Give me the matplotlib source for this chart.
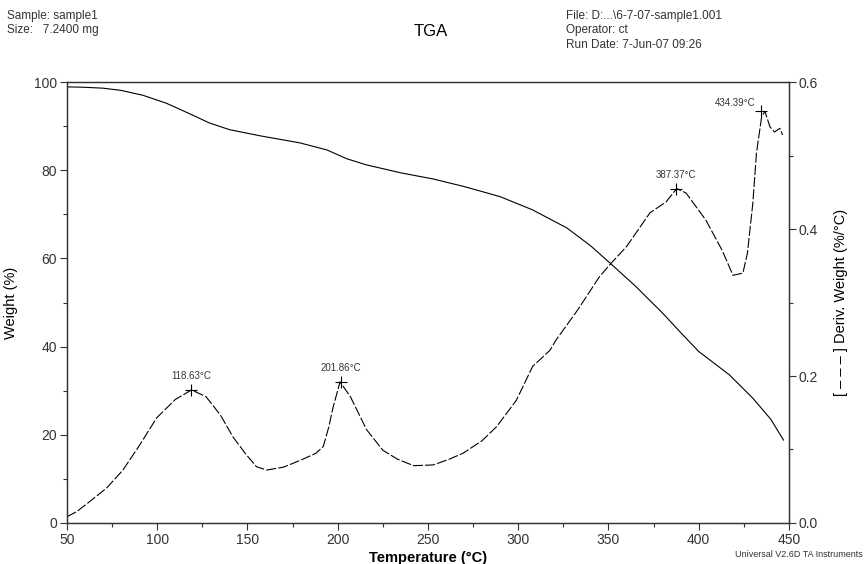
import matplotlib.pyplot as plt
from matplotlib.ticker import MultipleLocator

plt.rcParams['font.family'] = ['Liberation Sans', 'DejaVu Sans']

# weight curve (left axis, %)
weight_temp = [50, 60, 70, 80, 92, 105, 118, 129, 140, 157, 179, 194, 205, 216, 235,
               253, 270, 290, 308, 327, 340, 351, 365, 380, 390, 400, 417, 430, 440, 447]
weight_pct = [98.9, 98.8, 98.6, 98.1, 97.0, 95.2, 92.8, 90.7, 89.2, 87.8, 86.2, 84.6,
              82.6, 81.2, 79.4, 78.0, 76.3, 74.0, 71.0, 66.9, 62.9, 58.9, 53.7, 47.6,
              43.2, 38.9, 33.6, 28.3, 23.5, 18.8]

# derivative curve (right axis, %/°C)
deriv_temp = [50, 55.4, 63, 72, 81, 90, 99.7, 110, 119, 127, 135, 142, 149, 155, 160.6,
              170, 180, 188, 192, 195, 197.5, 201.3, 207, 216, 225, 233, 242, 253, 262,
              269.5, 280, 288, 299, 308, 317.6, 321, 333, 345, 351.7, 360, 373, 382,
              387.8, 393, 404, 413, 419, 424.5, 427, 430, 432, 434.9, 436.7, 439.5,
              442, 445, 446.5]
deriv_val = [0.0086, 0.0154, 0.030, 0.0476, 0.072, 0.105, 0.143, 0.168, 0.181, 0.172,
             0.147, 0.117, 0.094, 0.0766, 0.072, 0.076, 0.086, 0.095, 0.104, 0.130,
             0.158, 0.192, 0.172, 0.127, 0.099, 0.087, 0.078, 0.079, 0.087, 0.095,
             0.112, 0.131, 0.167, 0.213, 0.235, 0.249, 0.29, 0.335, 0.354, 0.376,
             0.422, 0.437, 0.455, 0.449, 0.412, 0.371, 0.337, 0.340, 0.367, 0.435,
             0.503, 0.553, 0.560, 0.539, 0.532, 0.537, 0.528]

peak_temp = [118.63, 201.86, 387.37, 434.39]
peak_val = [0.181, 0.192, 0.455, 0.560]
peak_label = ['118.63°C', '201.86°C', '387.37°C', '434.39°C']

axis_col = '#333333'

fig = plt.figure(figsize=(8.64, 5.64), dpi=100)
ax = fig.add_axes([0.0775, 0.0727, 0.8356, 0.7819])
ax2 = ax.twinx()

ax.plot(weight_temp, weight_pct, color='black', lw=0.8)
ax2.plot(deriv_temp, deriv_val, color='black', lw=0.8, dashes=(9, 2))

# peak markers and labels
for t, v, lab in zip(peak_temp, peak_val, peak_label):
    ax2.plot([t], [v], marker='+', ms=9, mew=0.8, color='black')
    if lab == '434.39°C':
        ax2.text(t - 3, v + 0.004, lab, ha='right', va='bottom', fontsize=7, color=axis_col)
    else:
        ax2.text(t, v + 0.012, lab, ha='center', va='bottom', fontsize=7, color=axis_col)

ax.set_xlim(50, 450)
ax.set_ylim(0, 100)
ax2.set_ylim(0, 0.6)

ax.xaxis.set_major_locator(MultipleLocator(50))
ax.xaxis.set_minor_locator(MultipleLocator(25))
ax.yaxis.set_major_locator(MultipleLocator(20))
ax.yaxis.set_minor_locator(MultipleLocator(10))
ax2.yaxis.set_major_locator(MultipleLocator(0.2))
ax2.yaxis.set_minor_locator(MultipleLocator(0.1))
ax2.yaxis.set_major_formatter(lambda v, p: '%.1f' % v)

for a in (ax, ax2):
    a.tick_params(which='major', direction='out', length=5, width=0.8, colors=axis_col,
                  labelsize=10, pad=2)
    a.tick_params(which='minor', direction='out', length=3, width=0.8, colors=axis_col)
    for s in a.spines.values():
        s.set_color(axis_col)
        s.set_linewidth(0.9)

ax.set_xlabel('Temperature (°C)', fontsize=10.5, fontweight='bold', labelpad=3)
ax.set_ylabel('Weight (%)', fontsize=10.5)
ax.yaxis.set_label_coords(-0.068, 0.5)
ax2.set_ylabel('[ – – – ] Deriv. Weight (%/°C)', fontsize=10.5, rotation=90)
ax2.yaxis.set_label_coords(1.062, 0.5)

# header texts
fig.text(0.008, 0.982, 'Sample: sample1\nSize:   7.2400 mg', fontsize=8.5,
         va='top', ha='left', color=axis_col, linespacing=1.25)
fig.text(0.498, 0.944, 'TGA', fontsize=12, va='center', ha='center', color='black')
fig.text(0.655, 0.982, 'File: D:...\\6-7-07-sample1.001\nOperator: ct\nRun Date: 7-Jun-07 09:26',
         fontsize=8.5, va='top', ha='left', color=axis_col, linespacing=1.25)
fig.text(0.998, 0.008, 'Universal V2.6D TA Instruments', fontsize=6.5, ha='right',
         va='bottom', color=axis_col)

fig.savefig('out.png', dpi=100)
